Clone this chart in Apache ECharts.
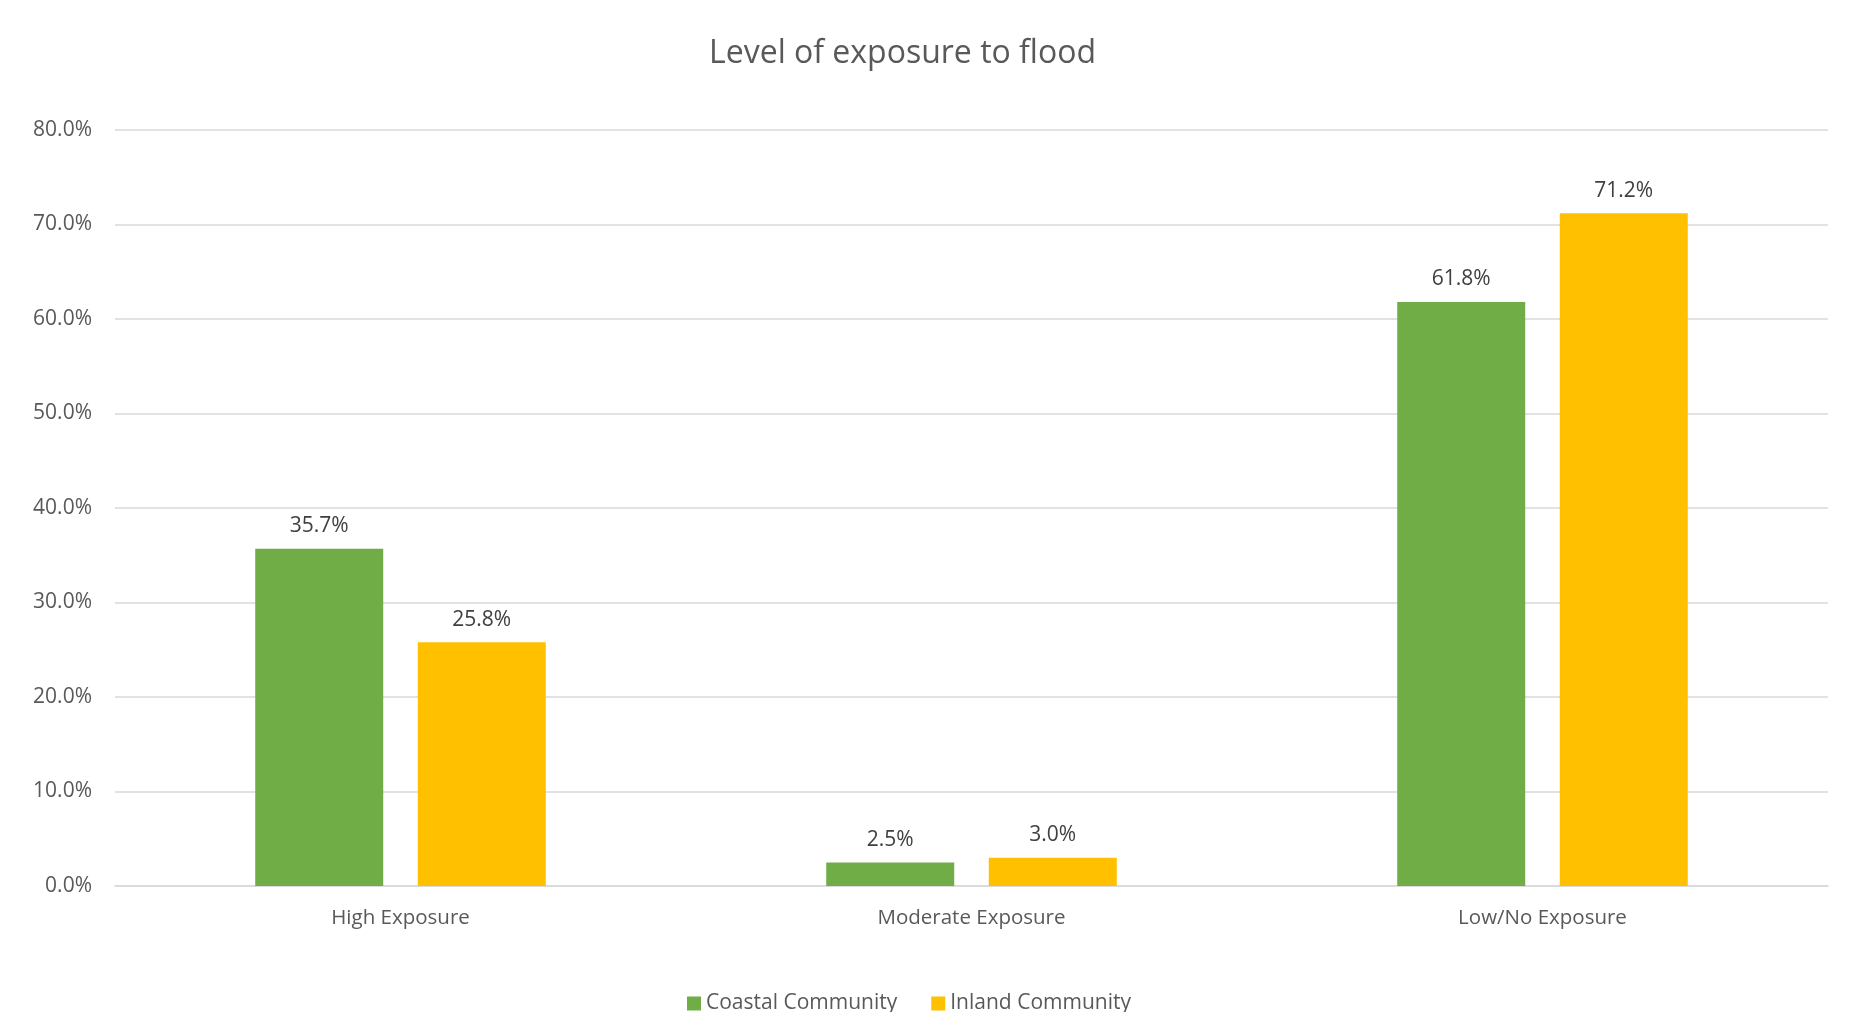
<!DOCTYPE html>
<html>
<head>
<meta charset="utf-8">
<script src="https://cdn.jsdelivr.net/npm/echarts@6/dist/echarts.min.js"></script>
<style>
  html, body { margin: 0; padding: 0; background: #fff; }
  #chart { width: 1852px; height: 1012px; }
</style>
</head>
<body>
<div id="chart"></div>
<script>
const categories = ['High Exposure', 'Moderate Exposure', 'Low/No Exposure'];
const coastal = [35.7, 2.5, 61.8];
const inland = [25.8, 3.0, 71.2];
const seriesNames = ['Coastal Community', 'Inland Community'];

const font = '"Open Sans", "Liberation Sans", sans-serif';
const chart = echarts.init(document.getElementById('chart'));

const labelOpt = {
  show: true,
  position: 'top',
  distance: 12,
  color: '#404040',
  fontSize: 21,
  fontFamily: font,
  formatter: (p) => p.value.toFixed(1) + '%',
};

chart.setOption({
  animation: false,
  title: {
    text: 'Level of exposure to flood',
    left: 704,
    top: 33,
    textStyle: { color: '#595959', fontSize: 32, fontWeight: 'normal', fontFamily: font },
  },
  legend: {
    bottom: -7,
    left: 682,
    icon: 'rect',
    itemWidth: 14,
    itemHeight: 14,
    itemGap: 34,
    textStyle: { color: '#595959', fontSize: 21, fontFamily: font },
    data: seriesNames,
  },
  grid: { left: 115, right: 24, top: 130, bottom: 126, containLabel: false },
  xAxis: {
    type: 'category',
    data: categories,
    axisTick: { show: false },
    axisLine: { lineStyle: { color: '#d9d9d9', width: 1.5 } },
    axisLabel: { color: '#595959', fontSize: 20.5, fontFamily: font, margin: 22 },
  },
  yAxis: {
    type: 'value',
    min: 0,
    max: 80,
    interval: 10,
    axisLine: { show: false },
    axisTick: { show: false },
    splitLine: { lineStyle: { color: '#d9d9d9', width: 1.5 } },
    axisLabel: {
      color: '#595959', fontSize: 21, fontFamily: font, margin: 23,
      formatter: (v) => v.toFixed(1) + '%',
    },
  },
  series: [
    {
      name: seriesNames[0],
      type: 'bar',
      data: coastal,
      barWidth: 128,
      barGap: '27%',
      itemStyle: { color: '#70ad47' },
      label: labelOpt,
    },
    {
      name: seriesNames[1],
      type: 'bar',
      data: inland,
      barWidth: 128,
      itemStyle: { color: '#ffc000' },
      label: labelOpt,
    },
  ],
});
</script>
</body>
</html>
